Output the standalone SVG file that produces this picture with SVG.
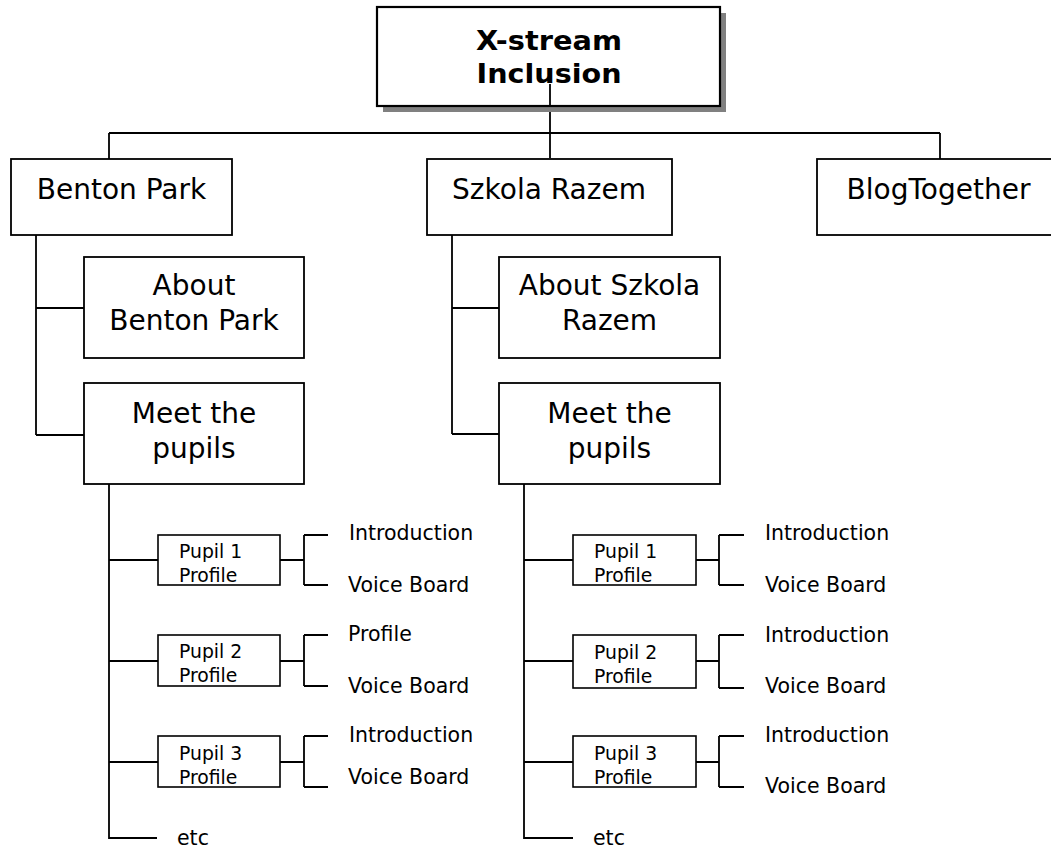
<svg xmlns="http://www.w3.org/2000/svg" width="1051" height="849" viewBox="0 0 1051 849">
<style>
.box{fill:#fff;stroke:#000;stroke-width:1.8}
.pbox{fill:#fff;stroke:#000;stroke-width:1.6}
.ln{fill:none;stroke:#000;stroke-width:1.8}
.t{font-family:"DejaVu Sans","Verdana",sans-serif;fill:#000}
.big{font-size:28px}
.mid{font-size:20.5px}
.sm{font-size:18.8px}
.title{font-size:26.5px;font-weight:bold}
</style>
<rect width="1051" height="849" fill="#fff"/>
<g id="connectors">
<path class="ln" d="M550 84V158 M109 133H940 M109 133V159 M940 133V159"/>
<path class="ln" d="M36 235V435 M36 308H84 M36 435H84"/>
<path class="ln" d="M452 235V434 M452 308H499 M452 434H499"/>
<path class="ln" d="M109 484V838H157 M109 560H158 M109 661H158 M109 762H158"/>
<path class="ln" d="M524 484V838H573 M524 560H573 M524 661H573 M524 762H573"/>
<path class="ln" d="M280 560H304 M304 535V585 M304 535H328 M304 585H328"/>
<path class="ln" d="M280 661H304 M304 635V686 M304 635H328 M304 686H328"/>
<path class="ln" d="M280 762H304 M304 736V787 M304 736H328 M304 787H328"/>
<path class="ln" d="M696 560H719 M719 535V585 M719 535H744 M719 585H744"/>
<path class="ln" d="M696 661H719 M719 635V688 M719 635H744 M719 688H744"/>
<path class="ln" d="M696 762H719 M719 736V787 M719 736H744 M719 787H744"/>
</g>
<g id="root">
<rect x="383" y="13" width="343" height="99" fill="#808080"/>
<rect x="377" y="7" width="343" height="99" fill="#fff" stroke="#000" stroke-width="2.2"/>
<text class="t title" x="549" y="50" text-anchor="middle" textLength="146" lengthAdjust="spacingAndGlyphs">X-stream</text>
<text class="t title" x="549" y="83" text-anchor="middle" textLength="145" lengthAdjust="spacingAndGlyphs">Inclusion</text>
<line class="ln" x1="550" y1="84" x2="550" y2="106"/>
</g>
<g id="benton-park">
<rect class="box" x="11" y="159" width="221" height="76"/>
<text class="t big" x="121.5" y="199" text-anchor="middle">Benton Park</text>
</g>
<g id="szkola-razem">
<rect class="box" x="427" y="159" width="245" height="76"/>
<text class="t big" x="549" y="199" text-anchor="middle">Szkola Razem</text>
</g>
<g id="blogtogether">
<rect class="box" x="817" y="159" width="250" height="76"/>
<text class="t big" x="938.5" y="199" text-anchor="middle">BlogTogether</text>
</g>
<g id="about-benton">
<rect class="box" x="84" y="257" width="220" height="101"/>
<text class="t big" x="194" y="295" text-anchor="middle">About</text>
<text class="t big" x="194" y="330" text-anchor="middle">Benton Park</text>
</g>
<g id="meet-benton">
<rect class="box" x="84" y="383" width="220" height="101"/>
<text class="t big" x="194" y="423" text-anchor="middle">Meet the</text>
<text class="t big" x="194" y="458" text-anchor="middle">pupils</text>
</g>
<g id="about-szkola">
<rect class="box" x="499" y="257" width="221" height="101"/>
<text class="t big" x="609.5" y="295" text-anchor="middle">About Szkola</text>
<text class="t big" x="609.5" y="330" text-anchor="middle">Razem</text>
</g>
<g id="meet-szkola">
<rect class="box" x="499" y="383" width="221" height="101"/>
<text class="t big" x="609.5" y="423" text-anchor="middle">Meet the</text>
<text class="t big" x="609.5" y="458" text-anchor="middle">pupils</text>
</g>
<g id="bp-pupil1">
<rect class="pbox" x="158" y="535" width="122" height="50"/>
<text class="t sm" x="179" y="558">Pupil 1</text>
<text class="t sm" x="179" y="582">Profile</text>
</g>
<g id="bp-pupil2">
<rect class="pbox" x="158" y="635" width="122" height="51"/>
<text class="t sm" x="179" y="658">Pupil 2</text>
<text class="t sm" x="179" y="682">Profile</text>
</g>
<g id="bp-pupil3">
<rect class="pbox" x="158" y="736" width="122" height="51"/>
<text class="t sm" x="179" y="760">Pupil 3</text>
<text class="t sm" x="179" y="784">Profile</text>
</g>
<g id="bp-leaves">
<text class="t mid" x="349" y="540">Introduction</text>
<text class="t mid" x="348" y="592">Voice Board</text>
<text class="t mid" x="348" y="641">Profile</text>
<text class="t mid" x="348" y="693">Voice Board</text>
<text class="t mid" x="349" y="742">Introduction</text>
<text class="t mid" x="348" y="784">Voice Board</text>
<text class="t mid" x="177" y="845">etc</text>
</g>
<g id="sr-pupil1">
<rect class="pbox" x="573" y="535" width="123" height="50"/>
<text class="t sm" x="594" y="558">Pupil 1</text>
<text class="t sm" x="594" y="582">Profile</text>
</g>
<g id="sr-pupil2">
<rect class="pbox" x="573" y="635" width="123" height="53"/>
<text class="t sm" x="594" y="659">Pupil 2</text>
<text class="t sm" x="594" y="683">Profile</text>
</g>
<g id="sr-pupil3">
<rect class="pbox" x="573" y="736" width="123" height="51"/>
<text class="t sm" x="594" y="760">Pupil 3</text>
<text class="t sm" x="594" y="784">Profile</text>
</g>
<g id="sr-leaves">
<text class="t mid" x="765" y="540">Introduction</text>
<text class="t mid" x="765" y="592">Voice Board</text>
<text class="t mid" x="765" y="642">Introduction</text>
<text class="t mid" x="765" y="693">Voice Board</text>
<text class="t mid" x="765" y="742">Introduction</text>
<text class="t mid" x="765" y="793">Voice Board</text>
<text class="t mid" x="593" y="845">etc</text>
</g>
</svg>
